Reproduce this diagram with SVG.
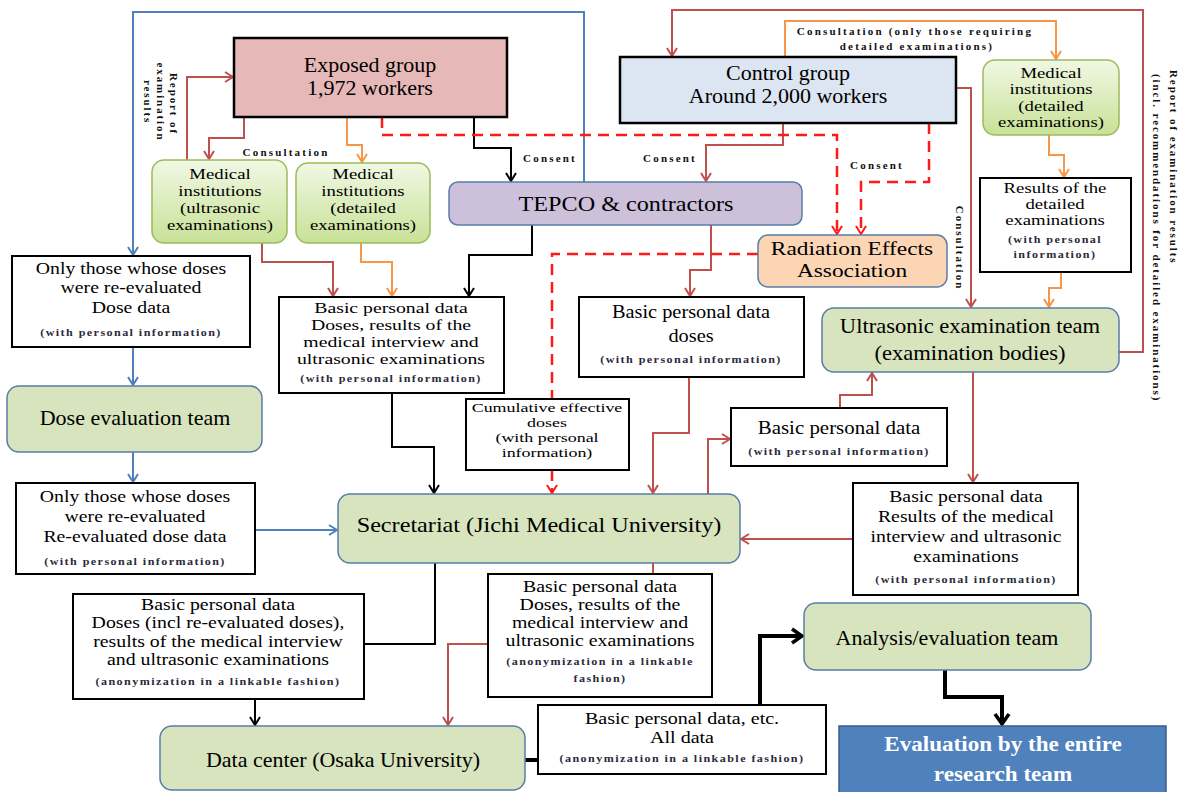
<svg xmlns="http://www.w3.org/2000/svg" width="1184" height="792" viewBox="0 0 1184 792">
<style>
.t{font-family:"Liberation Serif","Times New Roman",serif;font-size:18px;text-anchor:middle;fill:#000}
.sm{font-family:"Liberation Serif","Times New Roman",serif;font-size:11px;font-weight:bold;letter-spacing:1.3px;fill:#2b2b3b;text-anchor:middle}
.lab{font-family:"Liberation Serif","Times New Roman",serif;font-size:11px;font-weight:bold;letter-spacing:2.2px;fill:#111}
.vl{font-family:"Liberation Serif","Times New Roman",serif;font-size:11px;font-weight:bold;letter-spacing:1.9px;fill:#111}
.box{fill:#fff;stroke:#000;stroke-width:2}
.team{fill:#d7e4bd;stroke:#5a7ca8;stroke-width:1.5}
.med{fill:url(#gMed);stroke:#9bbb59;stroke-width:1.5}
.c{fill:none;stroke-width:2}
.cr{stroke:#c0504d;marker-end:url(#aR)}
.cro{stroke:#c0504d}
.co{stroke:#f79646;marker-end:url(#aO)}
.cb{stroke:#4f81bd;marker-end:url(#aB)}
.ck{stroke:#000;marker-end:url(#aK)}
.cko{stroke:#000}
.cd{stroke:#ff1a1a;stroke-width:2.5;stroke-dasharray:11 7}
.ct{stroke:#000;stroke-width:4}
</style>
<defs>
<linearGradient id="gMed" x1="0" y1="0" x2="0" y2="1">
<stop offset="0" stop-color="#f1f8e4"/>
<stop offset="1" stop-color="#c8e196"/>
</linearGradient>
<marker id="aR" viewBox="0 0 10 12" refX="9" refY="6" markerWidth="10" markerHeight="12" markerUnits="userSpaceOnUse" orient="auto"><path d="M1,1 L9,6 L1,11" fill="none" stroke="#c0504d" stroke-width="2"/></marker>
<marker id="aO" viewBox="0 0 10 12" refX="9" refY="6" markerWidth="10" markerHeight="12" markerUnits="userSpaceOnUse" orient="auto"><path d="M1,1 L9,6 L1,11" fill="none" stroke="#f79646" stroke-width="2"/></marker>
<marker id="aB" viewBox="0 0 10 12" refX="9" refY="6" markerWidth="10" markerHeight="12" markerUnits="userSpaceOnUse" orient="auto"><path d="M1,1 L9,6 L1,11" fill="none" stroke="#4f81bd" stroke-width="2"/></marker>
<marker id="aK" viewBox="0 0 10 12" refX="9" refY="6" markerWidth="10" markerHeight="12" markerUnits="userSpaceOnUse" orient="auto"><path d="M1,1 L9,6 L1,11" fill="none" stroke="#000" stroke-width="2"/></marker>
<marker id="aD" viewBox="0 0 10 12" refX="9" refY="6" markerWidth="10" markerHeight="12" markerUnits="userSpaceOnUse" orient="auto"><path d="M1,1 L9,6 L1,11" fill="none" stroke="#ff1a1a" stroke-width="2"/></marker>
<marker id="aT" viewBox="0 0 14 18" refX="12" refY="9" markerWidth="14" markerHeight="18" markerUnits="userSpaceOnUse" orient="auto"><path d="M2,2 L12,9 L2,16" fill="none" stroke="#000" stroke-width="3.5"/></marker>
</defs>
<rect width="1184" height="792" fill="#fff"/>

<g id="connectors">
<path class="c cb" d="M584,182 V12 H133 V255"/>
<path class="c cb" d="M133,347 V385"/>
<path class="c cb" d="M133,452 V482"/>
<path class="c cb" d="M255,530 H337"/>
<path class="c cr" d="M187,160 V77 H233"/>
<path class="c cr" d="M244,117 V138 H209 V159"/>
<path class="c cr" d="M1119,352 H1143 V10 H672 V56"/>
<path class="c cr" d="M783,123 V145 H706 V181"/>
<path class="c cr" d="M956,88 H971 V307"/>
<path class="c cr" d="M262,243 V262 H333 V296"/>
<path class="c cr" d="M711,225 V270 H690 V296"/>
<path class="c cr" d="M689,377 V433 H653 V493"/>
<path class="c cr" d="M708,494 V439 H730"/>
<path class="c cr" d="M840,408 V395 H872 V373"/>
<path class="c cr" d="M973,372 V482"/>
<path class="c cr" d="M853,539 H741"/>
<path class="c cro" d="M653,563 V574"/>
<path class="c cr" d="M488,644 H448 V725"/>
<path class="c co" d="M785,57 V21 H1056 V59"/>
<path class="c co" d="M347,117 V145 H362 V162"/>
<path class="c co" d="M1049,135 V155 H1064 V177"/>
<path class="c co" d="M1061,272 V288 H1049 V307"/>
<path class="c co" d="M361,243 V262 H392 V296"/>
<path class="c ck" d="M474,117 V148 H511 V181"/>
<path class="c ck" d="M532,225 V255 H469 V296"/>
<path class="c ck" d="M392,393 V447 H434 V493"/>
<path class="c cko" d="M435,563 V644 H364"/>
<path class="c ck" d="M255,699 V725"/>
<path class="c cd" d="M382,117 V135 H837 V234" marker-end="url(#aD)"/>
<path class="c cd" d="M929,123 V182 H861 V234" marker-end="url(#aD)"/>
<path class="c cd" d="M758,254 H552 V399"/>
<path class="c cd" d="M552,470 V493" marker-end="url(#aD)"/>
<path class="c ct" d="M525,760 H538"/>
<path class="c ct" d="M760,705 V636 H802" marker-end="url(#aT)"/>
<path class="c ct" d="M945,670 V697 H1002 V724" marker-end="url(#aT)"/>
</g>

<g id="labels">
<text class="lab" x="286" y="156" text-anchor="middle">Consultation</text>
<text class="lab" x="550" y="162" text-anchor="middle">Consent</text>
<text class="lab" x="670" y="162" text-anchor="middle">Consent</text>
<text class="lab" x="877" y="169" text-anchor="middle">Consent</text>
<text class="lab" x="915" y="35" text-anchor="middle">Consultation (only those requiring</text>
<text class="lab" x="917" y="50" text-anchor="middle">detailed examinations)</text>
<text class="vl" transform="translate(170,104) rotate(90)" text-anchor="middle">Report of</text>
<text class="vl" transform="translate(157,102) rotate(90)" text-anchor="middle">examination</text>
<text class="vl" transform="translate(144,102) rotate(90)" text-anchor="middle">results</text>
<text class="lab" transform="translate(956,248) rotate(90)" text-anchor="middle" style="letter-spacing:2px">Consultation</text>
<text class="vl" transform="translate(1170,70) rotate(90)">Report of examination results</text>
<text class="vl" transform="translate(1153,74) rotate(90)">(incl. recommendations  for detailed examinations)</text>
</g>

<g id="exposed-group">
<rect x="234" y="38" width="273" height="79" fill="#e6b9b8" stroke="#000" stroke-width="2.5"/>
<text class="t" transform="translate(370 0) scale(1.1 1)" style="font-size:20px"><tspan x="0" y="72">Exposed group</tspan><tspan x="0" y="95">1,972 workers</tspan></text>
</g>
<g id="control-group">
<rect x="620" y="57" width="336" height="66" fill="#dce6f2" stroke="#000" stroke-width="2.5"/>
<text class="t" transform="translate(788 0) scale(1.1 1)" style="font-size:20px"><tspan x="0" y="80">Control group</tspan><tspan x="0" y="103">Around 2,000 workers</tspan></text>
</g>
<g id="tepco">
<rect x="449" y="182" width="353" height="43" rx="9" fill="#ccc0da" stroke="#5a7ca8" stroke-width="1.5"/>
<text class="t" transform="translate(626 0) scale(1.1 1)" style="font-size:22px"><tspan x="0" y="211">TEPCO &amp; contractors</tspan></text>
</g>
<g id="radiation-effects">
<rect x="758" y="235" width="189" height="52" rx="10" fill="#fcd5b4" stroke="#5a7ca8" stroke-width="1.5"/>
<text class="t" transform="translate(852 0) scale(1.23 1)" style="font-size:19px"><tspan x="0" y="255">Radiation Effects</tspan><tspan x="0" y="277">Association</tspan></text>
</g>
<g id="med-ultrasonic">
<rect class="med" x="152" y="160" width="135" height="83" rx="12"/>
<text class="t" transform="translate(220 0) scale(1.25 1)" style="font-size:15px"><tspan x="0" y="179">Medical</tspan><tspan x="0" y="196">institutions</tspan><tspan x="0" y="213">(ultrasonic</tspan><tspan x="0" y="230">examinations)</tspan></text>
</g>
<g id="med-detailed-left">
<rect class="med" x="296" y="163" width="134" height="80" rx="12"/>
<text class="t" transform="translate(363 0) scale(1.25 1)" style="font-size:15px"><tspan x="0" y="179">Medical</tspan><tspan x="0" y="196">institutions</tspan><tspan x="0" y="213">(detailed</tspan><tspan x="0" y="230">examinations)</tspan></text>
</g>
<g id="med-detailed-right">
<rect class="med" x="983" y="60" width="136" height="75" rx="12"/>
<text class="t" transform="translate(1051 0) scale(1.29 1)" style="font-size:14.5px"><tspan x="0" y="78">Medical</tspan><tspan x="0" y="94.5">institutions</tspan><tspan x="0" y="111">(detailed</tspan><tspan x="0" y="127.5">examinations)</tspan></text>
</g>
<g id="results-detailed">
<rect class="box" x="980" y="178" width="151" height="94"/>
<text class="t" transform="translate(1055 0) scale(1.29 1)" style="font-size:14.5px"><tspan x="0" y="193">Results of the</tspan><tspan x="0" y="209">detailed</tspan><tspan x="0" y="225">examinations</tspan></text>
<text class="sm" transform="translate(1055 0) scale(1.1 1)"><tspan x="0" y="243">(with personal</tspan><tspan x="0" y="258">information)</tspan></text>
</g>
<g id="ultrasonic-team">
<rect class="team" x="822" y="308" width="297" height="64" rx="12"/>
<text class="t" transform="translate(970 0) scale(1.1 1)" style="font-size:20.5px"><tspan x="0" y="333">Ultrasonic examination team</tspan><tspan x="0" y="360">(examination bodies)</tspan></text>
</g>
<g id="dose-data">
<rect class="box" x="12" y="256" width="238" height="91"/>
<text class="t" transform="translate(131 0) scale(1.13 1)" style="font-size:17.5px"><tspan x="0" y="274">Only those whose doses</tspan><tspan x="0" y="293.5">were re-evaluated</tspan><tspan x="0" y="313">Dose data</tspan></text>
<text class="sm" transform="translate(131 0) scale(1.1 1)"><tspan x="0" y="336">(with personal information)</tspan></text>
</g>
<g id="dose-evaluation-team">
<rect class="team" x="7" y="386" width="255" height="66" rx="12"/>
<text class="t" transform="translate(135 0) scale(1.1 1)" style="font-size:20px"><tspan x="0" y="425">Dose evaluation team</tspan></text>
</g>
<g id="exposed-data">
<rect class="box" x="279" y="297" width="225" height="96"/>
<text class="t" transform="translate(391 0) scale(1.3 1)" style="font-size:15.2px"><tspan x="0" y="313">Basic personal data</tspan><tspan x="0" y="330">Doses, results of the</tspan><tspan x="0" y="347">medical  interview and</tspan><tspan x="0" y="364">ultrasonic examinations</tspan></text>
<text class="sm" transform="translate(391 0) scale(1.1 1)"><tspan x="0" y="382">(with personal information)</tspan></text>
</g>
<g id="control-data">
<rect class="box" x="579" y="297" width="225" height="80"/>
<text class="t" transform="translate(691 0) scale(1.1 1)" style="font-size:18.5px"><tspan x="0" y="318">Basic personal data</tspan><tspan x="0" y="342">doses</tspan></text>
<text class="sm" transform="translate(691 0) scale(1.1 1)"><tspan x="0" y="363">(with personal information)</tspan></text>
</g>
<g id="cumulative-doses">
<rect class="box" x="466" y="399" width="163" height="71"/>
<text class="t" transform="translate(547 0) scale(1.33 1)" style="font-size:13.5px"><tspan x="0" y="412">Cumulative effective</tspan><tspan x="0" y="427">doses</tspan><tspan x="0" y="442">(with personal</tspan><tspan x="0" y="457">information)</tspan></text>
</g>
<g id="basic-data-to-ultrasonic">
<rect class="box" x="731" y="408" width="216" height="58"/>
<text class="t" transform="translate(839 0) scale(1.1 1)" style="font-size:19px"><tspan x="0" y="434">Basic personal data</tspan></text>
<text class="sm" transform="translate(839 0) scale(1.1 1)"><tspan x="0" y="455">(with personal information)</tspan></text>
</g>
<g id="secretariat">
<rect class="team" x="338" y="494" width="402" height="69" rx="12"/>
<text class="t" transform="translate(539 0) scale(1.1 1)" style="font-size:22px"><tspan x="0" y="532">Secretariat (Jichi Medical University)</tspan></text>
</g>
<g id="reevaluated-dose-data">
<rect class="box" x="16" y="483" width="239" height="91"/>
<text class="t" transform="translate(135 0) scale(1.13 1)" style="font-size:17.5px"><tspan x="0" y="502">Only those whose doses</tspan><tspan x="0" y="522">were re-evaluated</tspan><tspan x="0" y="542">Re-evaluated dose data</tspan></text>
<text class="sm" transform="translate(135 0) scale(1.1 1)"><tspan x="0" y="565">(with personal information)</tspan></text>
</g>
<g id="ultrasonic-results">
<rect class="box" x="853" y="483" width="225" height="112"/>
<text class="t" transform="translate(966 0) scale(1.13 1)" style="font-size:17.5px"><tspan x="0" y="502">Basic personal data</tspan><tspan x="0" y="522">Results of the medical</tspan><tspan x="0" y="542">interview and ultrasonic</tspan><tspan x="0" y="562">examinations</tspan></text>
<text class="sm" transform="translate(966 0) scale(1.1 1)"><tspan x="0" y="583">(with personal information)</tspan></text>
</g>
<g id="anonymized-data-left">
<rect class="box" x="73" y="594" width="291" height="105"/>
<text class="t" transform="translate(218 0) scale(1.2 1)" style="font-size:16.5px"><tspan x="0" y="610">Basic personal data</tspan><tspan x="0" y="628.5">Doses (incl re-evaluated doses),</tspan><tspan x="0" y="647">results of the medical  interview</tspan><tspan x="0" y="665.5">and ultrasonic examinations</tspan></text>
<text class="sm" transform="translate(218 0) scale(1.1 1)"><tspan x="0" y="685">(anonymization in a linkable fashion)</tspan></text>
</g>
<g id="anonymized-data-mid">
<rect class="box" x="488" y="574" width="224" height="123"/>
<text class="t" transform="translate(600 0) scale(1.24 1)" style="font-size:16px"><tspan x="0" y="592">Basic personal data</tspan><tspan x="0" y="610">Doses, results of the</tspan><tspan x="0" y="628">medical  interview and</tspan><tspan x="0" y="646">ultrasonic examinations</tspan></text>
<text class="sm" transform="translate(600 0) scale(1.1 1)"><tspan x="0" y="665">(anonymization in a linkable</tspan><tspan x="0" y="682">fashion)</tspan></text>
</g>
<g id="all-data">
<rect class="box" x="538" y="705" width="288" height="69"/>
<text class="t" transform="translate(682 0) scale(1.18 1)" style="font-size:17px"><tspan x="0" y="724">Basic personal data, etc.</tspan><tspan x="0" y="743">All data</tspan></text>
<text class="sm" transform="translate(682 0) scale(1.1 1)"><tspan x="0" y="762">(anonymization in a linkable fashion)</tspan></text>
</g>
<g id="analysis-team">
<rect class="team" x="804" y="603" width="287" height="67" rx="12"/>
<text class="t" transform="translate(947 0) scale(1.1 1)" style="font-size:20px"><tspan x="0" y="645">Analysis/evaluation  team</tspan></text>
</g>
<g id="data-center">
<rect class="team" x="160" y="726" width="365" height="64" rx="12"/>
<text class="t" transform="translate(343 0) scale(1.1 1)" style="font-size:20px"><tspan x="0" y="767">Data center (Osaka University)</tspan></text>
</g>
<g id="entire-team-evaluation">
<rect x="839" y="726" width="327" height="72" fill="#4f81bd" stroke="#385d8a" stroke-width="1.5"/>
<text class="t" transform="translate(1003 0) scale(1.1 1)" style="font-size:21px;font-weight:bold;fill:#fff"><tspan x="0" y="751">Evaluation by the entire</tspan><tspan x="0" y="781">research team</tspan></text>
</g>
</svg>
